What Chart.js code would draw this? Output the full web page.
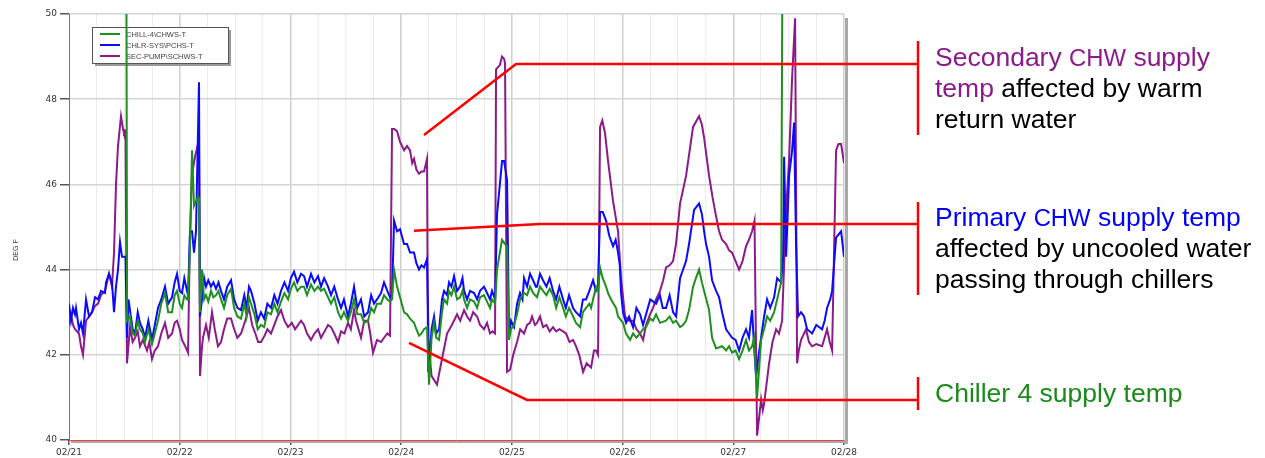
<!DOCTYPE html>
<html>
<head>
<meta charset="utf-8">
<script src="https://cdn.jsdelivr.net/npm/chart.js@4.4.1/dist/chart.umd.min.js"></script>
<style>
  html, body { margin: 0; padding: 0; background: #fff; }
  #wrap { position: relative; width: 1265px; height: 458px; overflow: hidden; }
  #chart { position: absolute; left: 0; top: 0; }
  .note { position: absolute; left: 935px; font-family: "Liberation Sans", Arial, sans-serif;
          font-size: 26.5px; line-height: 31px; color: #000; white-space: nowrap; }
  .note .abbr { font-size: 0.9em; }
</style>
</head>
<body>
<div id="wrap">
  <canvas id="chart" width="1265" height="458"></canvas>
  <div class="note" style="top:42px"><span style="color:#8b1a8b">Secondary <span class="abbr">CHW</span> supply<br>temp</span> affected by warm<br>return water</div>
  <div class="note" style="top:202px"><span style="color:#0000ff">Primary <span class="abbr">CHW</span> supply temp</span><br>affected by uncooled water<br>passing through chillers</div>
  <div class="note" style="top:378px"><span style="color:#1a8a1a">Chiller 4 supply temp</span></div>
</div>
<script>
// x = hours since 02/21 00:00, y = deg F
var dayLabels = ["02/21", "02/22", "02/23", "02/24", "02/25", "02/26", "02/27", "02/28"];
var seriesNames = ["CHILL-4\\CHWS-T", "CHLR-SYS\\PCHS-T", "SEC-PUMP\\SCHWS-T"];
var seriesColors = ["#1f8f1f", "#0a0aff", "#8b1a8b"];
var yTitle = "DEG F";

var chillerSupply = [
  [12.36,55],[12.6,42.8],[13.22,42.9],[13.8,42.5],[14.31,42.45],[14.9,42.8],[15.39,42.6],[16.0,42.5],
  [16.48,42.3],[17.2,42.6],[17.99,42.25],[18.6,42.5],[19.29,42.8],[20.0,43.2],[20.81,43.45],[21.5,43.0],
  [22.33,43.0],[22.9,43.4],[23.41,43.5],[24.0,43.2],[24.5,43.1],[25.0,43.4],[25.58,43.3],[25.8,43.3],
  [26.23,44.5],[26.67,46.8],[27.1,45.5],[27.53,45.6],[27.97,45.7],[28.18,45.6],[28.4,43.0],[28.83,44.0],
  [29.3,43.3],[29.7,43.4],[30.2,43.25],[30.78,43.5],[31.3,43.35],[31.87,43.4],[32.4,43.5],[32.95,43.3],
  [33.6,43.1],[34.3,43.4],[35.12,43.55],[35.8,43.1],[36.5,42.9],[37.29,42.85],[38.0,43.2],[38.5,42.9],
  [39.02,43.35],[39.46,43.2],[40.2,42.95],[40.91,42.6],[41.63,42.7],[42.3,42.65],[43.0,43.0],[43.79,42.95],
  [44.5,43.2],[45.2,43.0],[45.96,43.25],[46.7,43.45],[47.48,43.3],[48.1,43.55],[48.78,43.7],[49.5,43.5],
  [50.3,43.6],[50.95,43.6],[51.6,43.4],[52.46,43.65],[53.2,43.5],[53.98,43.6],[54.63,43.5],[55.3,43.55],
  [56.15,43.35],[56.8,43.2],[57.5,43.35],[58.32,43.0],[58.97,42.85],[59.6,43.0],[60.48,42.8],[61.1,43.0],
  [61.79,43.3],[62.5,42.95],[63.3,42.95],[64.0,42.75],[64.82,42.8],[65.5,43.1],[66.12,43.0],[66.77,43.2],
  [67.64,43.2],[68.29,43.4],[69.0,43.3],[69.59,43.25],[70.03,43.3],[70.46,44.0],[71.11,43.6],[71.76,43.35],
  [72.63,43.0],[73.28,42.95],[73.93,42.85],[74.79,42.75],[75.3,42.6],[75.88,42.45],[76.4,42.5],[76.96,42.6],
  [77.61,42.65],[78.04,41.3],[78.6,42.4],[79.13,42.75],[79.6,42.4],[80.21,42.35],[80.86,43.0],[81.3,43.3],
  [81.95,43.2],[82.38,43.5],[82.9,43.4],[83.47,43.6],[84.12,43.3],[84.77,43.35],[85.3,43.5],[85.64,43.3],
  [86.29,43.1],[86.94,43.3],[87.81,43.25],[88.46,43.1],[89.11,43.35],[89.97,43.4],[90.62,43.25],[91.27,43.1],
  [91.7,43.3],[92.36,43.2],[92.79,44.0],[93.4,44.4],[93.87,44.7],[94.52,44.6],[94.96,44.55],[95.39,42.35],
  [95.8,42.6],[96.47,42.7],[97.13,42.95],[97.77,43.3],[98.64,43.45],[99.3,43.4],[99.94,43.6],[100.6,43.45],
  [101.46,43.35],[102.1,43.6],[102.76,43.5],[103.5,43.4],[104.2,43.55],[104.93,43.4],[105.6,43.1],[106.3,43.35],
  [107.1,43.1],[107.7,42.9],[108.4,43.1],[109.27,42.9],[109.9,42.75],[110.79,42.65],[111.4,43.0],[112.08,43.1],
  [112.8,43.2],[113.17,43.1],[113.6,43.3],[114.25,43.6],[114.68,43.5],[115.12,44.05],[115.7,43.8],[116.42,43.6],
  [116.85,43.45],[117.5,43.3],[118.59,43.1],[119.02,42.9],[120.1,42.75],[120.75,42.5],[121.62,42.35],[122.27,42.5],
  [123.0,42.4],[123.79,42.5],[124.44,42.6],[125.09,42.65],[126.0,42.85],[126.61,42.8],[127.26,42.95],[128.1,42.75],
  [129.42,42.8],[130.2,42.9],[130.94,42.75],[131.59,42.8],[132.46,42.65],[133.1,42.7],[133.76,42.8],[134.41,43.05],
  [135.28,43.6],[135.9,43.8],[136.58,44.0],[137.2,43.7],[137.67,43.5],[138.75,43.05],[139.4,42.4],[140.27,42.15],
  [141.57,42.2],[142.44,42.1],[143.09,42.2],[143.74,42.05],[144.5,42.1],[145.26,41.9],[146.0,42.1],[146.77,42.35],
  [147.4,42.1],[148.07,42.2],[148.5,42.4],[149.16,41.0],[150.03,42.35],[150.68,42.6],[151.33,42.9],[152.0,42.8],
  [152.85,43.0],[153.28,43.2],[154.37,43.7],[154.8,55]
];

var primarySupply = [
  [0,43.2],[0.43,42.8],[0.87,43.1],[1.3,42.95],[1.52,43.1],[2.17,42.6],[2.6,42.75],[3.04,42.5],
  [3.69,43.3],[4.34,42.9],[4.99,43.0],[5.64,43.35],[6.29,43.3],[6.94,43.5],[7.8,43.45],[8.02,43.7],
  [8.67,43.9],[9.32,43.7],[9.76,43.0],[10.19,43.6],[10.62,44.0],[11.06,44.65],[11.49,44.3],[12.25,44.3],
  [12.57,42.4],[12.9,43.3],[13.22,43.05],[13.8,42.6],[14.31,42.5],[14.9,43.0],[15.39,42.75],[16.0,42.6],
  [16.48,42.4],[17.2,42.8],[17.99,42.35],[18.6,42.7],[19.29,43.1],[20.0,43.3],[20.81,43.6],[21.5,43.2],
  [22.33,43.35],[22.9,43.7],[23.41,43.9],[24.0,43.5],[24.5,43.45],[25.0,43.8],[25.58,43.5],[25.8,43.4],
  [26.23,44.9],[26.67,44.9],[27.1,44.4],[27.53,44.9],[28.18,48.4],[28.4,42.9],[28.83,43.3],[29.3,43.8],
  [29.7,43.6],[30.2,43.75],[30.78,43.6],[31.3,43.7],[31.87,43.55],[32.4,43.7],[32.95,43.5],[33.6,43.3],
  [34.3,43.6],[35.12,43.75],[35.8,43.3],[36.5,43.1],[37.29,43.05],[38.0,43.4],[38.5,43.1],[39.02,43.6],
  [39.46,43.5],[40.2,43.2],[40.91,42.8],[41.6,43.0],[42.3,42.85],[43.0,43.2],[43.79,43.1],[44.5,43.4],
  [45.2,43.2],[45.96,43.5],[46.7,43.7],[47.48,43.5],[48.1,43.8],[48.78,43.95],[49.5,43.7],[50.3,43.9],
  [50.95,43.85],[51.6,43.6],[52.46,43.9],[53.2,43.7],[53.98,43.85],[54.63,43.6],[55.3,43.8],[56.15,43.6],
  [56.8,43.4],[57.5,43.6],[58.32,43.3],[58.97,43.1],[59.6,43.3],[60.48,42.9],[61.1,43.2],[61.79,43.6],
  [62.5,43.1],[63.3,43.3],[64.0,42.9],[64.82,43.0],[65.5,43.4],[66.12,43.2],[66.77,43.3],[67.64,43.45],
  [68.29,43.7],[69.0,43.5],[69.59,43.35],[70.03,43.4],[70.46,45.15],[71.11,44.9],[71.76,44.95],[72.63,44.6],
  [73.28,44.6],[73.93,44.4],[74.79,44.4],[75.3,44.15],[75.88,44.0],[76.4,44.1],[76.96,44.05],[77.61,44.25],
  [78.04,41.7],[78.6,42.6],[79.13,42.9],[79.6,42.5],[80.21,42.6],[80.86,43.3],[81.3,43.5],[81.95,43.4],
  [82.38,43.7],[82.9,43.6],[83.47,43.85],[84.12,43.5],[84.77,43.6],[85.3,43.8],[85.64,43.5],[86.29,43.3],
  [86.94,43.5],[87.81,43.45],[88.46,43.3],[89.11,43.5],[89.97,43.6],[90.62,43.45],[91.27,43.3],[91.7,43.5],
  [92.36,43.3],[92.79,45.3],[93.4,46.0],[93.87,46.55],[94.31,46.55],[94.96,46.1],[95.39,42.5],[95.8,42.8],
  [96.47,42.65],[97.13,43.2],[97.77,43.45],[98.3,43.3],[98.64,43.8],[99.3,43.6],[99.94,43.9],[100.6,43.75],
  [101.2,43.6],[101.46,43.6],[102.1,43.9],[102.76,43.75],[103.5,43.6],[104.2,43.8],[104.93,43.5],[105.6,43.3],
  [106.3,43.6],[107.1,43.3],[107.7,43.1],[108.4,43.4],[109.27,43.1],[109.9,43.0],[110.79,42.9],[111.4,43.3],
  [112.08,43.3],[112.8,43.5],[113.6,43.75],[114.2,43.5],[114.68,43.6],[115.12,45.35],[115.7,45.35],[116.42,45.15],
  [117.1,44.8],[117.94,44.55],[118.5,44.7],[119.02,44.4],[119.4,44.1],[119.67,43.45],[120.1,43.0],[120.75,42.75],
  [121.4,42.9],[122.27,42.65],[123.0,43.1],[123.79,42.95],[124.44,42.7],[125.09,42.95],[126.0,43.3],[127.26,43.2],
  [128.1,43.4],[128.7,43.1],[129.42,43.1],[130.2,43.4],[130.94,43.0],[131.59,42.9],[132.46,43.8],[133.76,44.2],
  [134.41,44.6],[135.5,45.4],[136.58,45.55],[137.2,45.3],[137.67,44.9],[138.1,44.6],[138.75,44.3],[139.4,43.75],
  [140.27,43.5],[140.92,43.35],[141.57,43.0],[142.44,42.6],[143.09,42.5],[143.74,42.4],[144.5,42.35],[145.26,42.1],
  [146.0,42.4],[146.77,42.6],[147.4,42.4],[148.07,43.05],[148.51,42.2],[148.94,41.5],[149.5,42.0],[150.03,42.4],
  [150.68,42.9],[151.33,43.3],[152.0,43.1],[152.85,43.35],[153.5,43.8],[154.37,43.7],[154.8,44.3],[155.02,46.65],
  [155.45,44.3],[156.1,46.2],[156.75,46.8],[157.18,47.45],[157.61,44.6],[158.04,42.9],[158.69,43.0],[159.34,42.9],
  [160.0,42.6],[161.08,42.5],[162.0,42.7],[163.25,42.6],[163.8,42.8],[164.33,43.1],[165.0,43.3],[165.42,43.5],
  [166.28,44.75],[167.37,44.9],[168,44.3]
];

var secondarySupply = [
  [0,42.7],[0.43,42.95],[0.87,42.7],[1.3,42.6],[2.17,42.5],[2.6,42.2],[3.04,42.0],[3.69,42.8],
  [4.34,42.9],[4.99,43.0],[5.64,43.15],[6.29,43.2],[6.94,43.4],[7.8,43.5],[8.67,43.9],[9.32,43.6],
  [9.76,44.4],[10.19,46.0],[10.62,46.9],[11.27,47.6],[11.71,47.3],[11.92,47.2],[12.25,47.25],[12.57,41.8],
  [13.22,42.65],[13.8,42.3],[14.31,42.4],[14.9,42.55],[15.39,42.2],[16.0,42.35],[16.91,42.1],[17.4,42.3],
  [17.99,41.9],[18.6,42.1],[19.29,42.2],[20.0,42.5],[20.81,42.75],[21.5,42.4],[22.33,42.5],[22.9,42.75],
  [23.41,42.8],[24.0,42.6],[24.5,42.35],[25.2,42.2],[25.8,42.05],[26.23,44.85],[26.67,46.25],[27.32,46.65],
  [27.97,46.95],[28.18,46.9],[28.4,41.5],[28.83,42.2],[29.05,42.4],[29.7,42.7],[30.3,42.4],[31.0,43.0],
  [31.6,42.6],[32.3,42.2],[32.95,42.3],[33.6,42.6],[34.3,42.85],[35.12,42.85],[35.8,42.6],[36.5,42.4],
  [37.29,42.5],[38.2,42.8],[39.02,43.1],[39.7,42.7],[40.4,42.5],[41.0,42.3],[41.63,42.3],[42.4,42.45],
  [43.0,42.6],[43.79,42.5],[44.5,42.7],[45.2,42.9],[45.96,43.05],[46.7,42.8],[47.48,42.65],[48.3,42.75],
  [49.0,42.6],[50.3,42.8],[50.95,42.7],[51.6,42.5],[52.46,42.35],[53.2,42.5],[53.98,42.6],[54.63,42.4],
  [55.4,42.55],[56.15,42.7],[56.8,42.65],[57.5,42.5],[58.32,42.3],[58.97,42.55],[59.7,42.5],[60.48,42.75],
  [61.1,42.6],[61.79,43.05],[62.22,42.8],[63.3,42.4],[64.0,42.8],[64.82,42.8],[65.3,42.5],[65.9,42.05],
  [66.77,42.35],[67.64,42.3],[68.29,42.4],[69.0,42.5],[69.59,42.45],[70.03,47.3],[70.5,47.3],[71.11,47.25],
  [71.76,47.0],[72.63,46.8],[73.28,46.9],[73.93,46.8],[74.4,46.5],[74.79,46.6],[75.3,46.35],[75.88,46.25],
  [76.4,46.3],[76.96,46.3],[77.61,46.6],[77.83,41.6],[78.26,41.9],[78.6,41.5],[79.78,41.3],[80.3,41.6],
  [80.86,41.9],[81.95,42.5],[83.0,42.7],[84.12,42.95],[84.8,42.8],[85.64,43.05],[86.29,42.9],[86.94,42.8],
  [87.6,43.0],[88.46,42.9],[89.11,42.7],[89.97,42.6],[90.62,42.75],[91.27,42.5],[91.8,42.55],[92.36,42.5],
  [92.57,48.7],[93.4,48.8],[93.87,49.0],[94.31,48.95],[94.52,48.85],[94.96,41.6],[95.61,41.65],[96.3,42.0],
  [97.13,42.3],[97.8,42.6],[98.64,42.5],[99.3,42.7],[99.94,42.75],[100.38,42.9],[101.0,42.7],[101.46,42.75],
  [102.1,42.9],[102.76,42.65],[103.5,42.7],[104.2,42.55],[104.93,42.65],[105.6,42.55],[106.3,42.6],[107.1,42.55],
  [107.75,42.5],[108.5,42.3],[109.27,42.35],[109.92,42.2],[110.6,42.0],[111.44,41.6],[112.2,41.8],[113.17,41.7],
  [113.8,42.1],[114.25,42.1],[114.68,42.0],[115.12,47.35],[115.6,47.5],[116.2,47.2],[116.85,46.55],[117.94,45.6],
  [119.02,44.9],[119.67,43.8],[120.54,42.9],[121.4,42.8],[122.27,42.8],[123.0,42.6],[123.79,42.5],[124.44,42.35],
  [125.09,42.7],[125.96,42.95],[126.61,43.1],[127.26,43.3],[128.12,43.5],[128.8,43.75],[129.42,44.05],[130.2,44.1],
  [130.94,44.2],[131.59,44.6],[132.46,45.55],[133.76,46.2],[135.28,47.35],[136.58,47.6],[137.2,47.4],[137.67,47.1],
  [138.75,46.2],[139.5,45.7],[140.27,45.25],[140.92,44.9],[141.57,44.7],[142.44,44.6],[143.09,44.45],[143.74,44.4],
  [144.5,44.2],[145.26,44.0],[146.0,44.2],[146.77,44.55],[147.4,44.7],[148.07,44.9],[148.6,45.15],[149.16,40.1],
  [150.03,40.95],[150.4,40.7],[150.68,40.85],[151.76,41.8],[152.5,42.3],[153.28,42.6],[153.9,42.5],[154.37,42.7],
  [154.58,42.8],[155.45,45.4],[156.1,46.6],[156.75,48.5],[157.4,49.9],[157.83,41.8],[158.2,42.1],[158.69,42.35],
  [159.78,42.6],[160.4,42.3],[161.08,42.2],[162.0,42.25],[163.25,42.2],[163.8,42.4],[164.33,42.6],[164.9,42.3],
  [165.42,42.1],[166.28,46.8],[166.8,46.95],[167.37,46.95],[168,46.5]
];

// callouts: start point in data units, elbow and bracket in page pixels
var calloutFrom = [[76.96, 47.16], [74.79, 44.91], [73.7, 42.28]];
var calloutElbow = [[516, 64], [540, 224], [527, 400]];
var calloutBracket = [[41, 135], [202, 295], [377, 410]];
var bracketX = 918;

function toPoints(pairs) {
    return pairs.map(function(p) { return {x: p[0], y: p[1]}; });
}

var frameDecor = {
    id: "frameDecor",
    beforeDatasetsDraw: function(chart) {
        var ctx = chart.ctx, a = chart.chartArea;
        ctx.save();
        // red axis lines on left and bottom
        ctx.strokeStyle = "#ff3a3a";
        ctx.lineWidth = 1;
        ctx.beginPath();
        ctx.moveTo(a.left + 0.5, a.top);
        ctx.lineTo(a.left + 0.5, a.bottom + 0.5);
        ctx.lineTo(a.right, a.bottom + 0.5);
        ctx.stroke();
        // y title, rotated
        ctx.fillStyle = "#444";
        ctx.font = '7px "Liberation Sans", Arial, sans-serif';
        ctx.textAlign = "center";
        ctx.textBaseline = "middle";
        ctx.translate(16, 250);
        ctx.rotate(-Math.PI / 2);
        ctx.fillText(yTitle, 0, 0);
        ctx.restore();

        // legend box, top-left inside the plot
        var bx = a.left + 23, by = a.top + 13, bw = 136, bh = 36;
        ctx.save();
        ctx.fillStyle = "#9a9a9a";
        ctx.fillRect(bx + 3, by + 3, bw, bh);
        ctx.fillStyle = "#ffffff";
        ctx.fillRect(bx, by, bw, bh);
        ctx.strokeStyle = "#555";
        ctx.lineWidth = 1;
        ctx.strokeRect(bx + 0.5, by + 0.5, bw, bh);
        ctx.font = '7.5px "Liberation Sans", Arial, sans-serif';
        ctx.textBaseline = "middle";
        chart.data.datasets.forEach(function(ds, i) {
            var ly = by + 7 + i * 11;
            ctx.strokeStyle = ds.borderColor;
            ctx.lineWidth = 2;
            ctx.beginPath();
            ctx.moveTo(bx + 8, ly);
            ctx.lineTo(bx + 28, ly);
            ctx.stroke();
            ctx.fillStyle = "#444";
            ctx.fillText(ds.label, bx + 34, ly + 0.5);
        });
        ctx.restore();
    },
    afterDraw: function(chart) {
        var ctx = chart.ctx, a = chart.chartArea;
        var xs = chart.scales.x, ys = chart.scales.y;
        ctx.save();
        // grey drop shadow right and bottom
        ctx.fillStyle = "#a8a8a8";
        ctx.fillRect(a.right + 1, a.top + 4, 3, a.bottom - a.top);
        ctx.fillRect(a.left + 2, a.bottom + 1, a.right - a.left + 2, 2);
        // callout lines
        ctx.strokeStyle = "#ff0000";
        ctx.lineWidth = 2.5;
        for (var i = 0; i < calloutFrom.length; i++) {
            ctx.beginPath();
            ctx.moveTo(xs.getPixelForValue(calloutFrom[i][0]), ys.getPixelForValue(calloutFrom[i][1]));
            ctx.lineTo(calloutElbow[i][0], calloutElbow[i][1]);
            ctx.lineTo(bracketX, calloutElbow[i][1]);
            ctx.stroke();
            ctx.beginPath();
            ctx.moveTo(bracketX, calloutBracket[i][0]);
            ctx.lineTo(bracketX, calloutBracket[i][1]);
            ctx.stroke();
        }
        ctx.restore();
    }
};

var allSeries = [chillerSupply, primarySupply, secondarySupply];

var chart = new Chart(document.getElementById("chart"), {
    type: "line",
    data: {
        datasets: allSeries.map(function(s, i) {
            return {
                label: seriesNames[i],
                data: toPoints(s),
                borderColor: seriesColors[i],
                borderWidth: 2,
                pointRadius: 0,
                tension: 0,
                fill: false,
                clip: 0
            };
        })
    },
    options: {
        responsive: false,
        animation: false,
        devicePixelRatio: 1,
        layout: { padding: { left: 0, top: 14, right: 421, bottom: 0 } },
        plugins: {
            legend: { display: false },
            tooltip: { enabled: false }
        },
        scales: {
            x: {
                type: "linear",
                min: 0,
                max: 168,
                ticks: {
                    stepSize: 6,
                    autoSkip: false,
                    maxRotation: 0,
                    padding: 2,
                    color: "#333",
                    font: { family: "'DejaVu Sans', sans-serif", size: 9 },
                    callback: function(v) { return v % 24 === 0 ? dayLabels[v / 24] : ""; }
                },
                grid: {
                    color: function(c) {
                        if (!c.tick || c.tick.value === 0) return "rgba(0,0,0,0)";
                        return c.tick.value % 24 === 0 ? "#cfcfcf" : "#ececec";
                    },
                    lineWidth: function(c) { return c.tick && c.tick.value % 24 === 0 ? 1.5 : 1; },
                    tickColor: function(c) { return c.tick && c.tick.value % 24 === 0 ? "#555" : "rgba(0,0,0,0)"; },
                    tickLength: 5
                },
                border: { display: false },
                afterFit: function(s) { s.height = 18; }
            },
            y: {
                min: 40,
                max: 50,
                ticks: {
                    stepSize: 2,
                    padding: 3,
                    color: "#333",
                    font: { family: "'DejaVu Sans', sans-serif", size: 9 }
                },
                grid: {
                    color: function(c) { return c.tick && c.tick.value === 40 ? "rgba(0,0,0,0)" : "#d4d4d4"; },
                    lineWidth: 1.5,
                    tickColor: "#555",
                    tickLength: 9
                },
                border: { display: false },
                afterFit: function(s) { s.width = 69; }
            }
        }
    },
    plugins: [frameDecor]
});
</script>
</body>
</html>
